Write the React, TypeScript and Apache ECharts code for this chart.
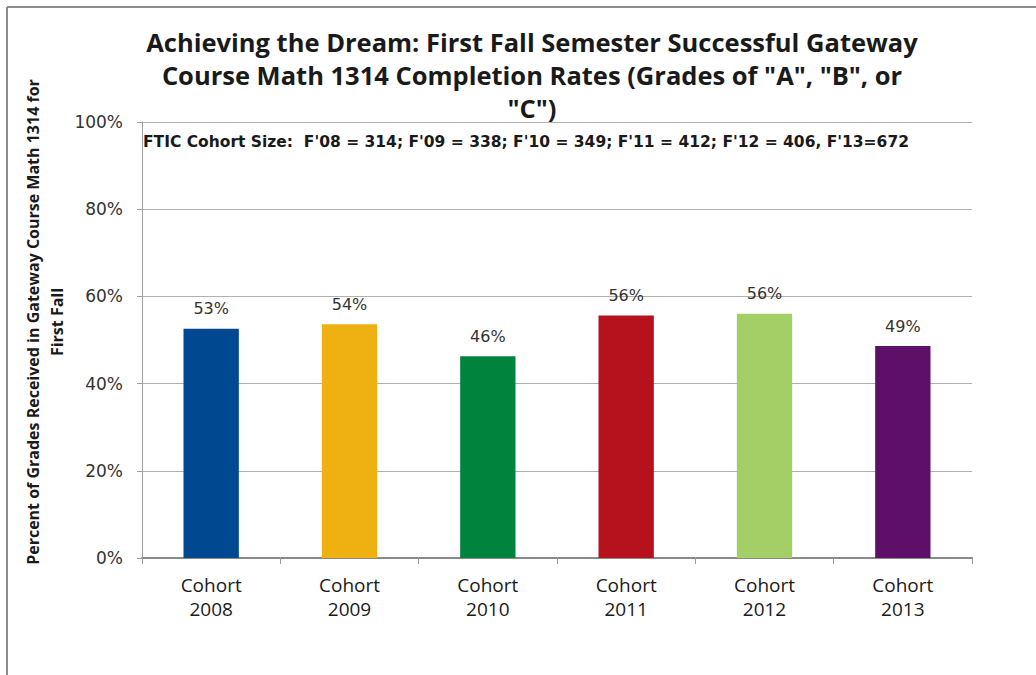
import React, { useEffect, useRef } from "react";
import * as echarts from "echarts";

const titleLines = [
  "Achieving the Dream: First Fall Semester Successful Gateway",
  'Course Math 1314 Completion Rates (Grades of "A", "B", or',
  '"C")',
];
const subtitle =
  "FTIC Cohort Size:  F'08 = 314; F'09 = 338; F'10 = 349; F'11 = 412; F'12 = 406, F'13=672";
const yAxisTitle = [
  "Percent of Grades Received in Gateway Course Math 1314 for",
  "First Fall",
];
const categories = [
  "Cohort\n2008",
  "Cohort\n2009",
  "Cohort\n2010",
  "Cohort\n2011",
  "Cohort\n2012",
  "Cohort\n2013",
];
const values = [52.6, 53.6, 46.3, 55.6, 56.0, 48.6];
const barColors = ["#00488F", "#EEB111", "#00843D", "#B5121E", "#A2D066", "#5E1068"];
const yMin = 0;
const yMax = 100;
const yInterval = 20;

export default function App() {
  const ref = useRef<HTMLDivElement>(null);
  useEffect(() => {
    if (!ref.current) return;
    const chart = echarts.init(ref.current, null, { renderer: "svg" });
    chart.setOption({
      animation: false,
      backgroundColor: "#ffffff",
      title: {
        text: titleLines.join("\n"),
        left: 527,
        top: 20,
        textAlign: "center",
        textStyle: {
          fontFamily: "Open Sans",
          fontWeight: "bold",
          fontSize: 25.5,
          lineHeight: 33,
          color: "#1a1a1a",
        },
      },
      grid: { left: 142, right: 64, top: 122, bottom: 117, containLabel: false },
      xAxis: {
        type: "category",
        data: categories,
        axisLine: { lineStyle: { color: "#8a8a8a", width: 2 } },
        axisTick: { show: true, alignWithLabel: false, length: 6, lineStyle: { color: "#9a9a9a" } },
        axisLabel: {
          fontFamily: "Liberation Sans Narrow, Open Sans",
          fontSize: 19,
          lineHeight: 24,
          color: "#1a1a1a",
          margin: 15,
        },
      },
      yAxis: {
        type: "value",
        min: yMin,
        max: yMax,
        interval: yInterval,
        axisLine: { show: true, lineStyle: { color: "#a0a0a0", width: 1 } },
        axisTick: { show: true, length: 5, lineStyle: { color: "#a0a0a0" } },
        splitLine: { lineStyle: { color: "#b0b0b0", width: 1 } },
        axisLabel: {
          formatter: "{value}%",
          fontFamily: "DejaVu Sans",
          fontSize: 17,
          color: "#333333",
          margin: 19,
        },
      },
      series: [
        {
          type: "bar",
          barWidth: "40%",
          data: values.map((v, i) => ({ value: v, itemStyle: { color: barColors[i] } })),
          label: {
            show: true,
            position: "top",
            distance: 12,
            formatter: (p: any) => Math.round(p.value) + "%",
            fontFamily: "DejaVu Sans",
            fontSize: 16,
            color: "#333333",
          },
        },
      ],
      graphic: [
        {
          type: "line",
          shape: { x1: 7, y1: 7, x2: 1036, y2: 7 },
          style: { stroke: "#8c8c8c", lineWidth: 2 },
        },
        {
          type: "line",
          shape: { x1: 7, y1: 7, x2: 7, y2: 675 },
          style: { stroke: "#8c8c8c", lineWidth: 2 },
        },
        {
          type: "text",
          x: 143,
          y: 142,
          style: {
            text: subtitle,
            fontFamily: "DejaVu Sans",
            fontWeight: "bold",
            fontSize: 15.5,
            fill: "#1a1a1a",
            textVerticalAlign: "middle",
          },
        },
        {
          type: "text",
          x: 45,
          y: 322,
          rotation: Math.PI / 2,
          style: {
            text: yAxisTitle.join("\n"),
            fontFamily: "Open Sans",
            fontWeight: "bold",
            fontSize: 16,
            lineHeight: 24,
            fill: "#1a1a1a",
            textAlign: "center",
            textVerticalAlign: "middle",
          },
        },
      ],
    });
    return () => chart.dispose();
  }, []);
  return (
    <div
      ref={ref}
      style={{ position: "fixed", left: 0, top: 0, width: 1036, height: 675 }}
    />
  );
}
